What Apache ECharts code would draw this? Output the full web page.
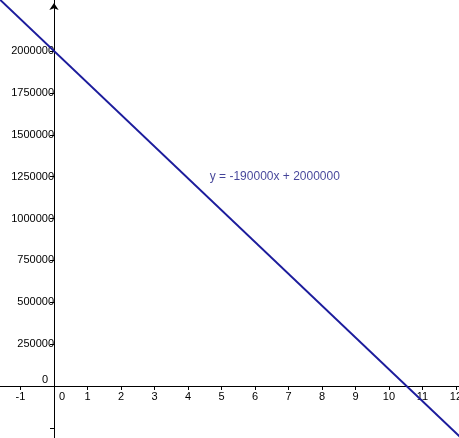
<!DOCTYPE html>
<html>
<head>
<meta charset="utf-8">
<script src="https://cdn.jsdelivr.net/npm/echarts@6/dist/echarts.min.js"></script>
<style>html,body{margin:0;padding:0;background:#fff}#c{width:459px;height:438px}</style>
</head>
<body>
<div id="c"></div>
<script>
// Line endpoints (x, y), for y = -190000x + 2000000
const lineX = [-1.7, 12.2];
const lineY = [2323000, -318000];
const xTicks = [-1, 0, 1, 2, 3, 4, 5, 6, 7, 8, 9, 10, 11, 12];
const yTicks = [-250000, 0, 250000, 500000, 750000, 1000000, 1250000, 1500000, 1750000, 2000000];
const yLabels = [0, 250000, 500000, 750000, 1000000, 1250000, 1500000, 1750000, 2000000];
const equationText = 'y = -190000x + 2000000';
const equationPos = [4.65, 1250000];

const W = 459, H = 438;
const xMin = -1.612, xMax = 12.09, yMin = -310448, yMax = 2304478;
// offsets that put each axis on the other's zero
const xZeroPx = (0 - xMin) / (xMax - xMin) * W;
const yZeroFromBottom = (0 - yMin) / (yMax - yMin) * H;

const color = '#1c1c9c';
const font = 'Liberation Sans, Arial, sans-serif';
const chart = echarts.init(document.getElementById('c'));
chart.setOption({
  animation: false,
  backgroundColor: '#fff',
  grid: { left: 0, right: 0, top: 0, bottom: 0, containLabel: false, outerBoundsMode: 'none' },
  xAxis: {
    type: 'value', min: xMin, max: xMax, position: 'bottom', offset: -yZeroFromBottom,
    axisLine: { onZero: false, lineStyle: { color: '#000', width: 1 } },
    axisTick: { show: true, length: 4, lineStyle: { color: '#000' }, customValues: xTicks },
    axisLabel: {
      customValues: xTicks, margin: 5, color: '#000', fontSize: 11, fontFamily: font,
      formatter: v => v === 0 ? '{z|0}' : String(v),
      rich: { z: { padding: [0, 0, 0, 16], fontSize: 11, color: '#000', fontFamily: font } }
    },
    splitLine: { show: false }
  },
  yAxis: {
    type: 'value', min: yMin, max: yMax, position: 'left', offset: -xZeroPx,
    axisLine: { onZero: false, symbol: ['none', 'arrow'], symbolSize: [7, 7], symbolOffset: [0, -3], lineStyle: { color: '#000', width: 1 } },
    axisTick: { show: true, length: 4, lineStyle: { color: '#000' }, customValues: yTicks },
    axisLabel: {
      customValues: yLabels, margin: 0, color: '#000', fontSize: 11, fontFamily: font,
      formatter: v => v === 0 ? '{z|0}' : String(v),
      rich: { z: { padding: [0, 6, 12, 0], fontSize: 11, color: '#000', fontFamily: font } }
    },
    splitLine: { show: false }
  },
  series: [
    {
      type: 'line', data: lineX.map((x, i) => [x, lineY[i]]),
      showSymbol: false, symbol: 'none', clip: true,
      lineStyle: { color: color, width: 2 }
    },
    {
      type: 'scatter', data: [equationPos], symbolSize: 0,
      label: { show: true, position: 'right', distance: 0, formatter: equationText, color: '#15157f', fontSize: 12, fontFamily: font }
    }
  ]
});
</script>
</body>
</html>
